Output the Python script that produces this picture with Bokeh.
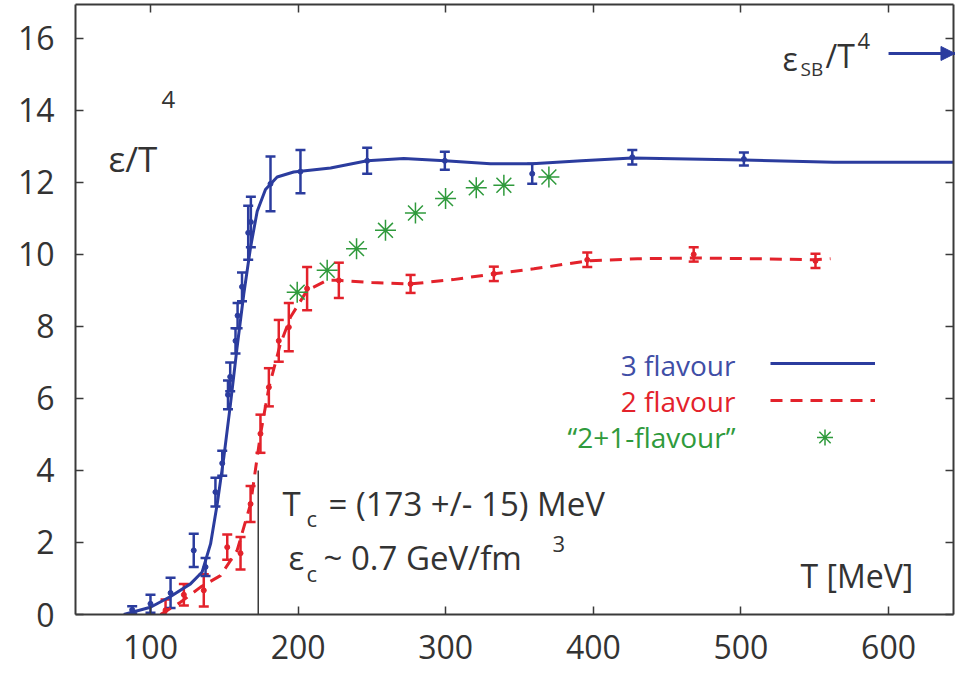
from bokeh.plotting import figure
from bokeh.models import (ColumnDataSource, Whisker, TeeHead, Label, Arrow, NormalHead,
                          LinearAxis, FixedTicker, Range1d, Legend, LegendItem)
from bokeh.core.properties import value
from bokeh.embed import file_html
from bokeh.resources import INLINE

# ---------------- data ----------------
# 3 flavour lattice points: T [MeV], eps/T^4, error
t3 = [87.6, 100, 113.6, 129.3, 137.3, 144, 148.6, 152.5, 154, 157.6, 159, 162, 166.2, 168,
      181.3, 201.6, 246.8, 299.4, 358.6, 426.4, 502]
e3 = [0.13, 0.30, 0.60, 1.78, 1.32, 3.4, 4.2, 6.1, 6.6, 7.6, 8.3, 9.1, 10.6, 10.9,
      11.96, 12.3, 12.6, 12.6, 12.24, 12.7, 12.65]
err3 = [0.1, 0.25, 0.42, 0.46, 0.25, 0.4, 0.35, 0.4, 0.4, 0.35, 0.35, 0.4, 0.75, 0.7,
        0.76, 0.6, 0.36, 0.25, 0.28, 0.2, 0.18]
# 3 flavour interpolating curve
t3_curve = [81.9, 100, 113.6, 127.1, 135, 140.7, 145.2, 149.7, 154.2, 158.7, 163.2, 167.8,
            172.3, 177.9, 185.8, 197, 222, 246.8, 271.6, 299.4, 330.3, 358.6, 392, 426.4,
            502, 562.9, 650]
e3_curve = [0, 0.2, 0.5, 0.85, 1.18, 1.96, 3.07, 4.37, 5.85, 7.43, 8.9, 10.2,
            11.2, 11.8, 12.15, 12.29, 12.4, 12.6, 12.66, 12.6, 12.52, 12.52, 12.6, 12.68,
            12.62, 12.56, 12.56]

# 2 flavour lattice points
t2 = [110.2, 122.6, 136.1, 152, 161, 167.8, 174.5, 180.2, 186.9, 193.7, 206.1, 227.6,
      276.2, 332.6, 395.9, 468, 550.5]
e2 = [0.12, 0.55, 0.67, 1.87, 1.7, 3.07, 5.02, 6.31, 7.6, 7.98, 9.05, 9.28,
      9.18, 9.46, 9.85, 10.0, 9.82]
err2 = [0.3, 0.3, 0.45, 0.35, 0.45, 0.5, 0.53, 0.53, 0.58, 0.67, 0.6, 0.49,
        0.25, 0.2, 0.2, 0.2, 0.2]
# 2 flavour interpolating curve
t2_curve = [106.8, 120.3, 133.9, 147.4, 158.7, 167.8, 174.5, 180.2, 187.9, 194.9, 206.1,
            219.6, 227.6, 250, 276.2, 305, 332.6, 359.7, 395.9, 430, 468, 510, 550.5, 560.7]
e2_curve = [0, 0.34, 0.76, 1.08, 1.78, 3.07, 5.0, 6.3, 7.5, 8.26, 9.0,
            9.28, 9.28, 9.22, 9.18, 9.3, 9.46, 9.6, 9.82, 9.88, 9.9, 9.88, 9.85, 9.88]

# "2+1 flavour"
t21 = [199.4, 219.7, 239.6, 259.2, 279.5, 299.9, 320.7, 339.4, 369.9]
e21 = [8.95, 9.56, 10.16, 10.67, 11.15, 11.55, 11.85, 11.92, 12.15]

# critical temperature marker
tc = 173
tc_line_top = 4.0
# Stefan-Boltzmann arrow
sb_level = 15.58
sb_arrow_start = 600
sb_arrow_end = 645

x_labels = [100, 200, 300, 400, 500, 600]
y_ticks = [0, 2, 4, 6, 8, 10, 12, 14, 16]

BLUE = "#2b3c9e"
RED = "#e3222b"
GREEN = "#2f9a3c"
AX = "#3a3a3a"
FONT = "Open Sans"

# ---------------- figure ----------------
p = figure(width=959, height=673, output_backend="svg", toolbar_location=None,
           x_range=Range1d(49.2, 644.0), y_range=Range1d(0, 16.94),
           min_border_left=75, min_border_right=6, min_border_top=4, min_border_bottom=59,
           x_axis_location=None, y_axis_location=None)
p.grid.visible = False
p.outline_line_color = None
p.background_fill_color = "white"


def make_axis(axis, labels):
    axis.axis_line_color = AX
    axis.axis_line_width = 2
    axis.major_tick_line_color = AX
    axis.major_tick_line_width = 1.5
    axis.major_tick_in = 8
    axis.major_tick_out = 0
    axis.minor_tick_in = 0
    axis.minor_tick_out = 0
    if labels:
        axis.major_label_text_font = FONT
        axis.major_label_text_font_size = "32px"
        axis.major_label_text_color = "#333333"
    else:
        axis.major_label_text_font_size = "0px"
        axis.major_label_standoff = 0
    return axis


bottom = make_axis(LinearAxis(ticker=FixedTicker(ticks=x_labels)), True)
bottom.major_label_standoff = 20
left = make_axis(LinearAxis(ticker=FixedTicker(ticks=y_ticks)), True)
left.major_label_standoff = 21
top = make_axis(LinearAxis(ticker=FixedTicker(ticks=x_labels)), False)
right = make_axis(LinearAxis(ticker=FixedTicker(ticks=y_ticks)), False)
p.add_layout(bottom, "below")
p.add_layout(left, "left")
p.add_layout(top, "above")
p.add_layout(right, "right")

# Tc line
p.segment(x0=[tc], y0=[0], x1=[tc], y1=[tc_line_top], line_color=AX, line_width=1.5)

# curves
l3 = p.line(t3_curve, e3_curve, line_color=BLUE, line_width=3)
l2 = p.line(t2_curve, e2_curve, line_color=RED, line_width=3, line_dash="12 8")

# error bars
src3 = ColumnDataSource(dict(x=t3, y=e3, lo=[a - b for a, b in zip(e3, err3)],
                             hi=[a + b for a, b in zip(e3, err3)]))
src2 = ColumnDataSource(dict(x=t2, y=e2, lo=[a - b for a, b in zip(e2, err2)],
                             hi=[a + b for a, b in zip(e2, err2)]))
for src, col in ((src2, RED), (src3, BLUE)):
    w = Whisker(base="x", lower="lo", upper="hi", source=src, dimension="height",
                line_color=col, line_width=2.5,
                upper_head=TeeHead(size=10, line_color=col, line_width=2.5),
                lower_head=TeeHead(size=10, line_color=col, line_width=2.5))
    p.add_layout(w)
    p.scatter("x", "y", source=src, size=5, color=col)

s21 = p.scatter(t21, e21, marker="asterisk", size=21, line_color=GREEN, line_width=1.5)

# legends (samples only; coloured texts are labels)
leg1 = Legend(items=[LegendItem(label=value(" "), renderers=[l3]),
                     LegendItem(label=value(" "), renderers=[l2])],
              location=(695, 204), glyph_width=105, glyph_height=20, label_height=20,
              label_width=0, label_standoff=0, spacing=17, padding=0, margin=0,
              border_line_alpha=0, background_fill_alpha=0, label_text_font_size="10px")
leg2 = Legend(items=[LegendItem(label=value(" "), renderers=[s21])],
              location=(697, 157), glyph_width=105, glyph_height=40, label_height=40,
              label_width=0, label_standoff=0, padding=0, margin=0,
              border_line_alpha=0, background_fill_alpha=0, label_text_font_size="10px")
p.add_layout(leg1)
p.add_layout(leg2)


def txt(x, y, s, size, color="#333333", align="left"):
    p.add_layout(Label(x=x, y=y, text=s, text_font=FONT, text_font_size=size,
                       text_color=color, text_baseline="middle", text_align=align))


txt(496.3, 6.92, "3 flavour", "28px", "#3f4ea6", "right")
txt(496.3, 5.94, "2 flavour", "28px", RED, "right")
txt(496.3, 4.92, "\u201c2+1-flavour\u201d", "28px", GREEN, "right")

# y label
txt(71.5, 12.65, "\u03b5/T", "35px")
txt(107.5, 14.3, "4", "24px")

# SB limit
txt(528.2, 15.44, "\u03b5", "32px")
txt(540.4, 15.14, "SB", "19px")
txt(557.3, 15.53, "/T", "32px")
txt(579.0, 15.92, "4", "22px")
p.add_layout(Arrow(end=NormalHead(size=14, fill_color=BLUE, line_color=BLUE),
                   x_start=sb_arrow_start, y_start=sb_level, x_end=sb_arrow_end,
                   y_end=sb_level, line_color=BLUE, line_width=3))

# Tc annotation
txt(189.4, 3.08, "T", "33px")
txt(205.7, 2.69, "c", "22px")
txt(220.6, 3.08, "= (173 +/- 15) MeV", "33px")
txt(193.5, 1.58, "\u03b5", "33px")
txt(205.7, 1.14, "c", "22px")
txt(217.2, 1.58, "~ 0.7 GeV/fm", "33px")
txt(372.4, 1.97, "3", "22px")

# x label
txt(540.4, 1.08, "T [MeV]", "32px")

open("out.html", "w").write(file_html(p, INLINE))
